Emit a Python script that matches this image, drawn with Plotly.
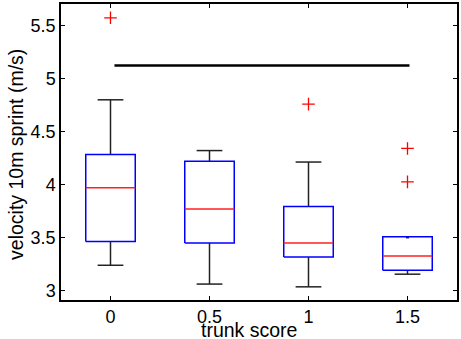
import plotly.graph_objects as go

# ---- data ----
trunk_score = [0, 0.5, 1, 1.5]
q1 = [3.464, 3.449, 3.318, 3.193]
median = [3.969, 3.770, 3.449, 3.327]
q3 = [4.284, 4.219, 3.794, 3.508]
whisker_low = [3.240, 3.063, 3.037, 3.156]
whisker_high = [4.798, 4.320, 4.212, 3.500]
outlier_x = [0, 1, 1.5, 1.5]
outlier_y = [5.57, 4.757, 4.340, 4.025]
sig_x = [0.02, 1.51]
sig_y = [5.12, 5.12]

x_ticks = [0, 0.5, 1, 1.5]
x_ticklabels = ["0", "0.5", "1", "1.5"]
y_ticks = [3, 3.5, 4, 4.5, 5, 5.5]
y_ticklabels = ["3", "3.5", "4", "4.5", "5", "5.5"]

box_half = 0.125
cap_half = 0.065
dot_half = 0.008

# ---- build line geometries from data ----
bx, by, mx, my, wx, wy = [], [], [], [], [], []
for x, a, m, b, lo, hi in zip(trunk_score, q1, median, q3, whisker_low, whisker_high):
    bx += [x - box_half, x + box_half, x + box_half, x - box_half, x - box_half, None]
    by += [a, a, b, b, a, None]
    mx += [x - box_half, x + box_half, None]
    my += [m, m, None]
    # upper whisker
    if hi > b:
        wx += [x, x, None, x - cap_half, x + cap_half, None]
        wy += [b, hi, None, hi, hi, None]
    else:
        wx += [x - dot_half, x + dot_half, None]
        wy += [hi, hi, None]
    # lower whisker
    wx += [x, x, None, x - cap_half, x + cap_half, None]
    wy += [a, lo, None, lo, lo, None]

fig = go.Figure()
fig.add_trace(go.Scatter(x=wx, y=wy, mode="lines",
                         line=dict(color="#222222", width=1.5), hoverinfo="skip"))
fig.add_trace(go.Scatter(x=bx, y=by, mode="lines",
                         line=dict(color="#0000FF", width=1.5), hoverinfo="skip"))
fig.add_trace(go.Scatter(x=mx, y=my, mode="lines",
                         line=dict(color="#FF2020", width=1.5), hoverinfo="skip"))
fig.add_trace(go.Scatter(x=outlier_x, y=outlier_y, mode="markers",
                         marker=dict(symbol="cross-thin", size=9,
                                     line=dict(color="#FF0000", width=1.3)),
                         hoverinfo="skip"))
fig.add_trace(go.Scatter(x=sig_x, y=sig_y, mode="lines",
                         line=dict(color="#000000", width=2.5), hoverinfo="skip"))

font_family = "Liberation Sans, Arial, sans-serif"

fig.update_layout(
    width=461, height=339,
    margin=dict(l=61, r=2, t=2, b=39),
    paper_bgcolor="white", plot_bgcolor="white",
    showlegend=False,
    font=dict(family=font_family, size=18, color="#000000"),
    xaxis=dict(range=[-0.25, 1.75], tickvals=x_ticks, ticktext=x_ticklabels,
               ticks="inside", ticklen=4, tickwidth=1, tickcolor="#000000",
               showline=True, linecolor="#000000", linewidth=1.5, mirror="ticks",
               showgrid=False, zeroline=False, fixedrange=True,
               tickfont=dict(size=18)),
    yaxis=dict(range=[2.913, 5.7], tickvals=y_ticks, ticktext=y_ticklabels,
               ticks="inside", ticklen=4, tickwidth=1, tickcolor="#000000",
               showline=True, linecolor="#000000", linewidth=1.5, mirror="ticks",
               showgrid=False, zeroline=False, fixedrange=True,
               tickfont=dict(size=18)),
    annotations=[
        dict(text="trunk score", xref="paper", yref="paper", x=0.476, y=0,
             xanchor="center", yanchor="top", yshift=-17, showarrow=False,
             font=dict(size=19.5, family=font_family, color="#000000")),
        dict(text="velocity 10m sprint (m/s)", xref="paper", yref="paper",
             x=0, y=0.49, xanchor="center", yanchor="middle", xshift=-45,
             textangle=-90, showarrow=False,
             font=dict(size=19.5, family=font_family, color="#000000")),
    ],
)

fig.write_html("out.html")
